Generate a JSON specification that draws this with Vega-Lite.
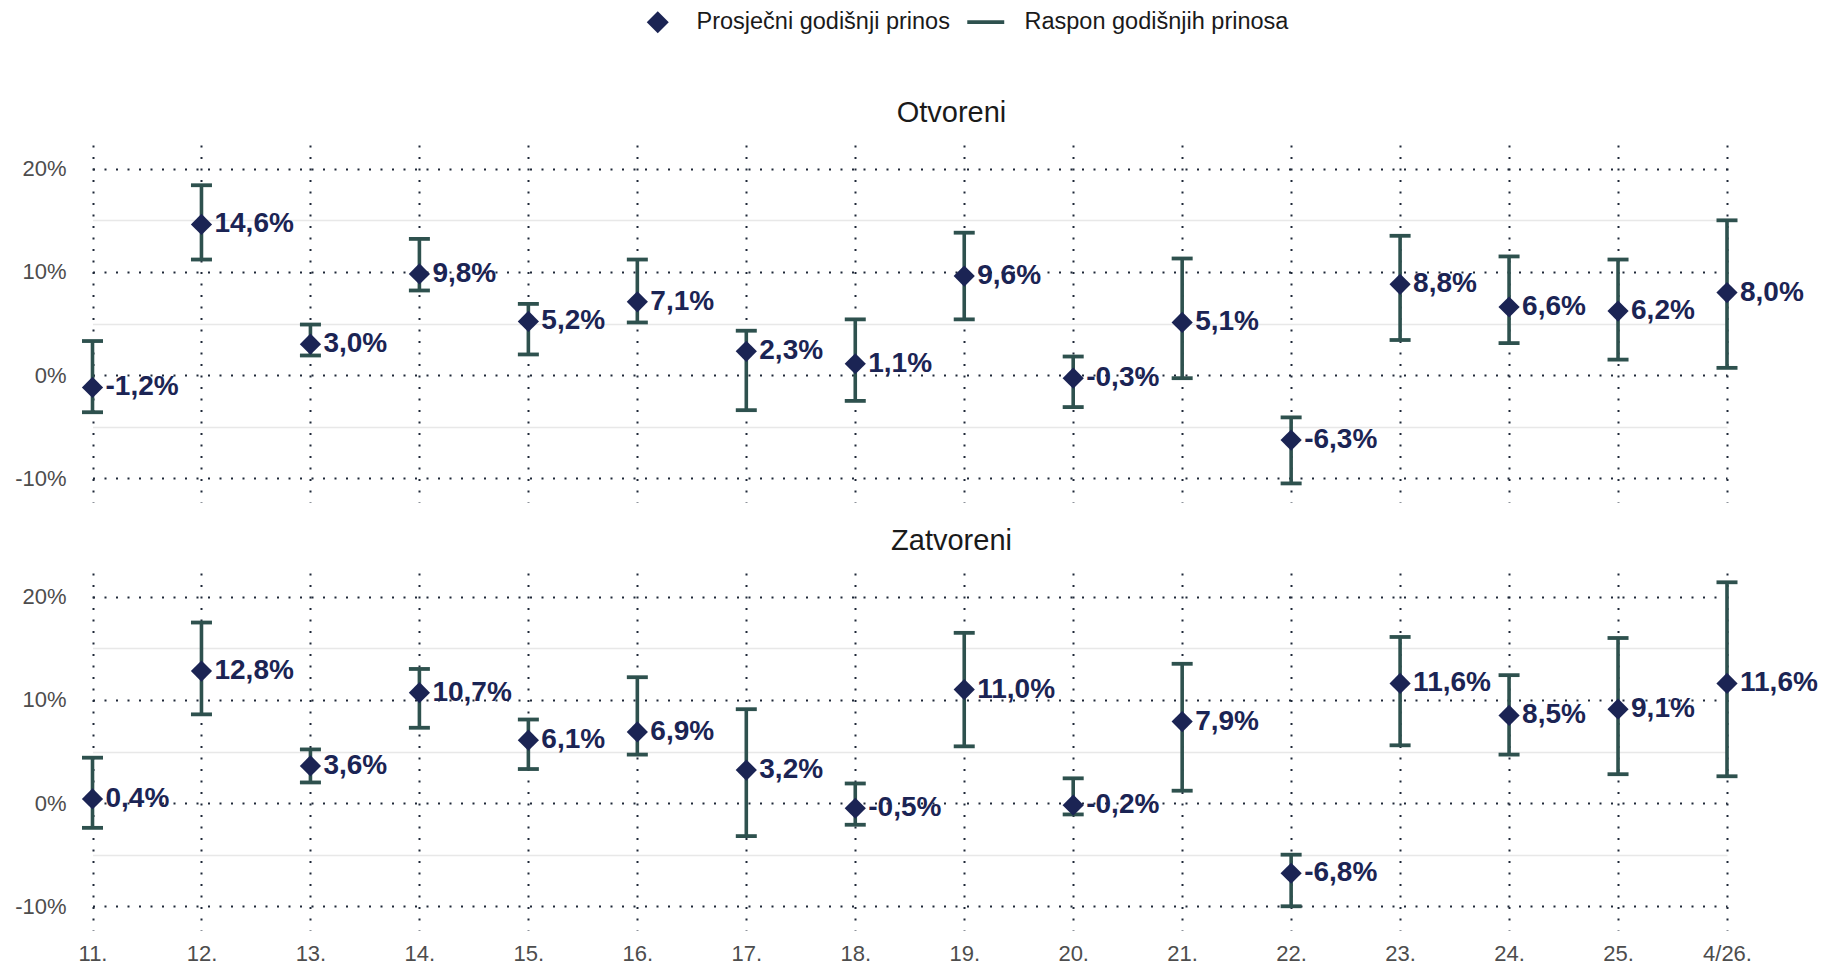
{
  "$schema": "https://vega.github.io/schema/vega-lite/v6.json",
  "padding": {"left": 14, "top": 10, "right": 0, "bottom": 0},
  "background": "#ffffff",
  "data": {"values": [
    {"type": "Otvoreni", "year": "11.", "mean": -0.012, "low": -0.036, "high": 0.033},
    {"type": "Otvoreni", "year": "12.", "mean": 0.146, "low": 0.112, "high": 0.184},
    {"type": "Otvoreni", "year": "13.", "mean": 0.030, "low": 0.019, "high": 0.049},
    {"type": "Otvoreni", "year": "14.", "mean": 0.098, "low": 0.082, "high": 0.132},
    {"type": "Otvoreni", "year": "15.", "mean": 0.052, "low": 0.020, "high": 0.069},
    {"type": "Otvoreni", "year": "16.", "mean": 0.071, "low": 0.051, "high": 0.112},
    {"type": "Otvoreni", "year": "17.", "mean": 0.023, "low": -0.034, "high": 0.043},
    {"type": "Otvoreni", "year": "18.", "mean": 0.011, "low": -0.025, "high": 0.054},
    {"type": "Otvoreni", "year": "19.", "mean": 0.096, "low": 0.054, "high": 0.138},
    {"type": "Otvoreni", "year": "20.", "mean": -0.003, "low": -0.031, "high": 0.018},
    {"type": "Otvoreni", "year": "21.", "mean": 0.051, "low": -0.003, "high": 0.113},
    {"type": "Otvoreni", "year": "22.", "mean": -0.063, "low": -0.105, "high": -0.041},
    {"type": "Otvoreni", "year": "23.", "mean": 0.088, "low": 0.034, "high": 0.135},
    {"type": "Otvoreni", "year": "24.", "mean": 0.066, "low": 0.031, "high": 0.115},
    {"type": "Otvoreni", "year": "25.", "mean": 0.062, "low": 0.015, "high": 0.112},
    {"type": "Otvoreni", "year": "4/26.", "mean": 0.080, "low": 0.007, "high": 0.150},
    {"type": "Zatvoreni", "year": "11.", "mean": 0.004, "low": -0.024, "high": 0.044},
    {"type": "Zatvoreni", "year": "12.", "mean": 0.128, "low": 0.086, "high": 0.175},
    {"type": "Zatvoreni", "year": "13.", "mean": 0.036, "low": 0.020, "high": 0.052},
    {"type": "Zatvoreni", "year": "14.", "mean": 0.107, "low": 0.073, "high": 0.130},
    {"type": "Zatvoreni", "year": "15.", "mean": 0.061, "low": 0.033, "high": 0.081},
    {"type": "Zatvoreni", "year": "16.", "mean": 0.069, "low": 0.047, "high": 0.122},
    {"type": "Zatvoreni", "year": "17.", "mean": 0.032, "low": -0.032, "high": 0.091},
    {"type": "Zatvoreni", "year": "18.", "mean": -0.005, "low": -0.021, "high": 0.019},
    {"type": "Zatvoreni", "year": "19.", "mean": 0.110, "low": 0.055, "high": 0.165},
    {"type": "Zatvoreni", "year": "20.", "mean": -0.002, "low": -0.011, "high": 0.024},
    {"type": "Zatvoreni", "year": "21.", "mean": 0.079, "low": 0.012, "high": 0.135},
    {"type": "Zatvoreni", "year": "22.", "mean": -0.068, "low": -0.100, "high": -0.050},
    {"type": "Zatvoreni", "year": "23.", "mean": 0.116, "low": 0.056, "high": 0.161},
    {"type": "Zatvoreni", "year": "24.", "mean": 0.085, "low": 0.047, "high": 0.124},
    {"type": "Zatvoreni", "year": "25.", "mean": 0.091, "low": 0.028, "high": 0.160},
    {"type": "Zatvoreni", "year": "4/26.", "mean": 0.116, "low": 0.026, "high": 0.214}
  ]},
  "facet": {
    "field": "type", "type": "nominal", "sort": ["Otvoreni", "Zatvoreni"],
    "header": {"title": null, "labelFontSize": 29, "labelFont": "Liberation Sans", "labelColor": "#1a1a1a", "labelPadding": 17}
  },
  "columns": 1,
  "spacing": 25,
  "spec": {
    "width": 1739,
    "height": 357,
    "layer": [
      {
        "mark": {"type": "errorbar", "opacity": 1, "size": 21, "thickness": 3.6,
          "ticks": {"opacity": 1, "thickness": 3.8},
          "rule": {"opacity": 1, "strokeWidth": 3.6}},
        "encoding": {
          "x": {"field": "year", "type": "ordinal", "sort": null,
            "scale": {"type": "point", "range": [10.5, 1645], "padding": 0},
            "axis": {"title": null, "labelAngle": 0, "ticks": false, "domain": false, "labelPadding": 13,
              "grid": true, "gridDash": [2, 9.5], "gridColor": "#1f2838", "gridWidth": 2,
              "labelFontSize": 22, "labelColor": "#4d4d4d", "labelFont": "Liberation Sans"}},
          "y": {"field": "low", "type": "quantitative",
            "scale": {"domain": [-0.123, 0.223], "nice": false, "zero": false},
            "axis": {"title": null, "values": [-0.1, -0.05, 0, 0.05, 0.1, 0.15, 0.2], "format": ".0%",
              "labelExpr": "abs(round(datum.value * 20)) % 2 === 0 ? datum.label : ''",
              "ticks": false, "domain": false, "labelPadding": 15, "grid": true,
              "gridDash": {"condition": {"test": "abs(round(datum.value * 20)) % 2 === 0", "value": [2, 9.5]}, "value": []},
              "gridColor": {"condition": {"test": "abs(round(datum.value * 20)) % 2 === 0", "value": "#1f2838"}, "value": "#e8e8e8"},
              "gridWidth": {"condition": {"test": "abs(round(datum.value * 20)) % 2 === 0", "value": 2}, "value": 1.3},
              "labelFontSize": 22, "labelColor": "#4d4d4d", "labelFont": "Liberation Sans"}},
          "y2": {"field": "high"},
          "color": {"datum": "Raspon godišnjih prinosa"}
        }
      },
      {
        "mark": {"type": "point", "filled": true, "size": 450, "opacity": 1},
        "encoding": {
          "x": {"field": "year", "type": "ordinal", "sort": null},
          "y": {"field": "mean", "type": "quantitative"},
          "color": {
            "datum": "Prosječni godišnji prinos",
            "scale": {"domain": ["Prosječni godišnji prinos", "Raspon godišnjih prinosa"], "range": ["#1b2454", "#2e514e"]},
            "legend": {
              "title": null, "orient": "none", "direction": "horizontal", "legendX": 564, "legendY": -135,
              "labelFontSize": 23.5, "labelFont": "Liberation Sans", "labelColor": "#1a1a1a", "labelLimit": 600,
              "symbolSize": 484, "symbolOpacity": 1, "symbolStrokeWidth": 0, "labelOffset": 27, "columnPadding": 17
            }
          },
          "shape": {
            "datum": "Prosječni godišnji prinos",
            "scale": {"domain": ["Prosječni godišnji prinos", "Raspon godišnjih prinosa"],
              "range": ["M0,-1L1,0L0,1L-1,0Z", "M-1.68,-0.16L1.68,-0.16L1.68,0.16L-1.68,0.16Z"]}
          }
        }
      },
      {
        "mark": {"type": "text", "align": "left", "baseline": "middle", "dx": 13, "fontSize": 28, "fontWeight": "bold", "font": "Liberation Sans", "color": "#1b2454"},
        "encoding": {
          "x": {"field": "year", "type": "ordinal", "sort": null},
          "y": {"field": "mean", "type": "quantitative"},
          "text": {"field": "mean", "type": "quantitative", "format": ".1%"}
        }
      }
    ]
  },
  "config": {
    "locale": {"number": {"decimal": ",", "thousands": ".", "grouping": [3], "currency": ["", " €"], "minus": "-"}},
    "view": {"stroke": null},
    "font": "Liberation Sans"
  }
}
